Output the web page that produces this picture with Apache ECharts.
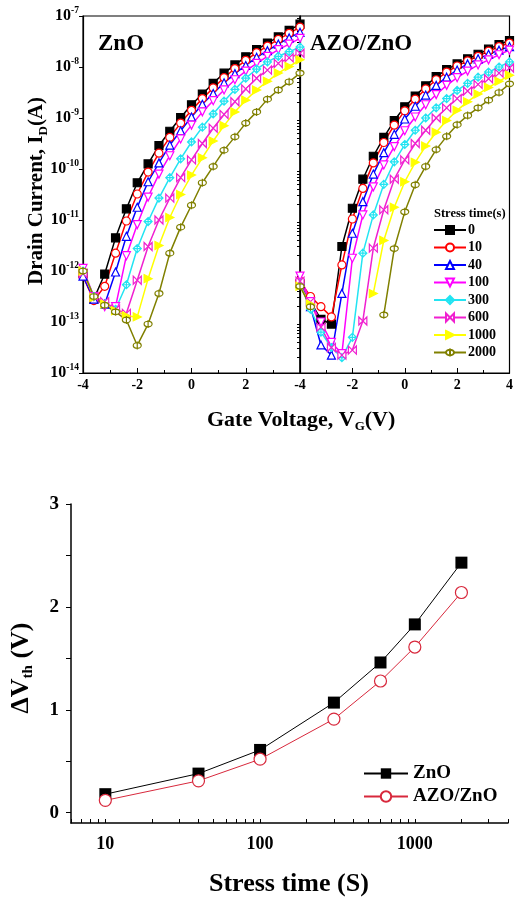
<!DOCTYPE html>
<html>
<head>
<meta charset="utf-8">
<script src="https://cdn.jsdelivr.net/npm/echarts@6/dist/echarts.min.js"></script>
<style>
  html, body { margin: 0; padding: 0; background: #fff; }
  #chart { width: 516px; height: 898px; }
</style>
</head>
<body>
<div id="chart"></div>
<script>
// gate voltage sweep (V), same for both panels
const voltages = [-4, -3.6, -3.2, -2.8, -2.4, -2, -1.6, -1.2, -0.8, -0.4, 0, 0.4, 0.8, 1.2, 1.6, 2, 2.4, 2.8, 3.2, 3.6, 4]
const stressNames = ['0', '10', '40', '100', '300', '600', '1000', '2000']

// log10 of drain current (A), ZnO panel
const znoLog0 = [-12.05, -12.55, -12.06, -11.35, -10.78, -10.27, -9.90, -9.54, -9.26, -8.99, -8.74, -8.53, -8.32, -8.12, -7.96, -7.80, -7.66, -7.53, -7.41, -7.28, -7.16]
const znoLog10 = [-12.10, -12.58, -12.30, -11.65, -11.02, -10.49, -10.06, -9.69, -9.38, -9.10, -8.85, -8.62, -8.41, -8.21, -8.03, -7.87, -7.72, -7.59, -7.46, -7.34, -7.22]
const znoLog40 = [-12.10, -12.55, -12.65, -12.02, -11.32, -10.75, -10.25, -9.88, -9.53, -9.25, -8.98, -8.73, -8.52, -8.31, -8.13, -7.97, -7.81, -7.68, -7.55, -7.43, -7.32]
const znoLog100 = [-11.95, -12.50, -12.70, -12.70, -11.70, -11.09, -10.55, -10.10, -9.74, -9.41, -9.14, -8.88, -8.66, -8.45, -8.25, -8.08, -7.93, -7.79, -7.66, -7.55, -7.44]
const znoLog300 = [-12.00, -12.50, -12.65, -12.75, -12.27, -11.56, -11.03, -10.57, -10.17, -9.80, -9.47, -9.18, -8.92, -8.67, -8.44, -8.22, -8.04, -7.90, -7.79, -7.70, -7.61]
const znoLog600 = [-12.05, -12.50, -12.60, -12.75, -12.83, -12.18, -11.52, -11.00, -10.57, -10.17, -9.82, -9.50, -9.20, -8.93, -8.68, -8.43, -8.22, -8.06, -7.93, -7.82, -7.73]
const znoLog1000 = [-12.00, -12.52, -12.65, -12.78, -12.88, -12.90, -12.15, -11.50, -10.95, -10.50, -10.12, -9.78, -9.45, -9.15, -8.88, -8.65, -8.45, -8.28, -8.12, -7.99, -7.86]
const znoLog2000 = [-12.00, -12.50, -12.67, -12.80, -12.96, -13.46, -13.04, -12.44, -11.65, -11.14, -10.71, -10.27, -9.95, -9.63, -9.37, -9.10, -8.88, -8.63, -8.45, -8.29, -8.12]

// log10 of drain current (A), AZO/ZnO panel
const azoLog0 = [-12.25, -12.60, -12.95, -13.04, -11.52, -10.77, -10.20, -9.75, -9.38, -9.05, -8.78, -8.57, -8.37, -8.19, -8.05, -7.94, -7.84, -7.75, -7.65, -7.56, -7.48]
const azoLog10 = [-12.20, -12.50, -12.70, -12.90, -11.88, -10.98, -10.38, -9.88, -9.48, -9.14, -8.86, -8.63, -8.43, -8.25, -8.10, -7.98, -7.88, -7.79, -7.69, -7.60, -7.53]
const azoLog40 = [-12.20, -12.70, -13.45, -13.65, -12.44, -11.26, -10.64, -10.10, -9.68, -9.32, -9.02, -8.77, -8.55, -8.36, -8.20, -8.06, -7.94, -7.84, -7.75, -7.67, -7.60]
const azoLog100 = [-12.10, -12.60, -13.00, -13.40, -13.62, -11.75, -10.90, -10.35, -9.92, -9.56, -9.25, -8.98, -8.74, -8.54, -8.36, -8.21, -8.08, -7.96, -7.86, -7.76, -7.67]
const azoLog300 = [-12.25, -12.75, -13.20, -13.50, -13.70, -13.30, -11.65, -10.90, -10.30, -9.86, -9.52, -9.24, -9.00, -8.80, -8.62, -8.46, -8.32, -8.20, -8.10, -8.00, -7.90]
const azoLog600 = [-12.20, -12.60, -13.10, -13.50, -13.65, -13.55, -12.98, -11.55, -10.80, -10.20, -9.82, -9.50, -9.24, -9.00, -8.80, -8.62, -8.47, -8.34, -8.23, -8.12, -8.02]
const azoLog1000 = [-12.30, -12.65, null, null, null, null, null, -12.44, -11.40, -10.75, -10.25, -9.87, -9.55, -9.28, -9.05, -8.85, -8.68, -8.53, -8.40, -8.28, -8.16]
const azoLog2000 = [-12.30, -12.70, null, null, null, null, null, null, -12.86, -11.56, -10.84, -10.31, -9.95, -9.62, -9.36, -9.13, -8.95, -8.80, -8.65, -8.50, -8.33]

const decadeExps = [-14, -13, -12, -11, -10, -9, -8, -7]

// threshold voltage shift vs stress time
const stressTime = [10, 40, 100, 300, 600, 1000, 2000]
const dVthZnO = [0.18, 0.38, 0.61, 1.07, 1.46, 1.83, 2.43]
const dVthAZO = [0.12, 0.31, 0.52, 0.91, 1.28, 1.61, 2.14]
const dVthTicks = [0, 0.5, 1, 1.5, 2, 2.5, 3]
const dVthLabels = [0, 1, 2, 3]
const timeLabels = [10, 100, 1000]

const znoLogs = [znoLog0, znoLog10, znoLog40, znoLog100, znoLog300, znoLog600, znoLog1000, znoLog2000]
const azoLogs = [azoLog0, azoLog10, azoLog40, azoLog100, azoLog300, azoLog600, azoLog1000, azoLog2000]

const SERIF = "'Liberation Serif', 'DejaVu Serif', serif"

const markers = [
  { color: '#000000', fill: '#000000', symbol: 'rect' },
  { color: '#ff0000', fill: '#ffffff', symbol: 'circle' },
  { color: '#0000ff', fill: '#ffffff', symbol: 'triangle' },
  { color: '#ff00ff', fill: '#ffffff', symbol: 'path://M-9,-8L9,-8L0,9Z' },
  { color: '#22e4f2', fill: '#ffffff', symbol: 'path://M0,-10L10,0L0,10L-10,0ZM0,-10L0,10M-10,0L10,0' },
  { color: '#f020d0', fill: '#ffffff', symbol: 'path://M-10,-8L10,8L10,-8L-10,8Z' },
  { color: '#ffff00', fill: '#ffff00', symbol: 'path://M-8,-9L9,0L-8,9Z' },
  { color: '#808000', fill: '#ffffff', symbol: 'path://M0,-9A9,9 0 1,1 0,9A9,9 0 1,1 0,-9ZM0,-13L0,13' }
]

const minorDecadeTicks = []
decadeExps.slice(0, -1).forEach(e => {
  for (let m = 2; m <= 9; m++) minorDecadeTicks.push(Number(m + 'e' + e))
})
const timeTicks = [6, 7, 8, 9, 10, 20, 30, 40, 50, 60, 70, 80, 90, 100, 200, 300, 400, 500, 600, 700, 800, 900, 1000, 2000, 3000, 4000]

function curve (logs, i, panel) {
  const m = markers[i]
  return {
    name: stressNames[i],
    type: 'line',
    xAxisIndex: panel,
    yAxisIndex: panel === 0 ? 0 : 2,
    data: voltages.map((v, k) => [v, logs[k] === null ? null : Math.pow(10, logs[k])]),
    symbol: m.symbol,
    symbolSize: 8,
    lineStyle: { color: m.color, width: 1.5 },
    itemStyle: { color: m.fill, borderColor: m.color, borderWidth: 1.2 },
    emphasis: { disabled: true }
  }
}

function vgAxis (grid, showMax) {
  return {
    type: 'value',
    gridIndex: grid,
    min: -4,
    max: 4,
    interval: 2,
    axisLine: { onZero: false, lineStyle: { color: '#000', width: 1.2 } },
    axisTick: { inside: true, length: 5, lineStyle: { color: '#000' } },
    minorTick: { show: true, splitNumber: 2, length: 3, lineStyle: { color: '#000' } },
    splitLine: { show: false },
    axisLabel: {
      showMaxLabel: showMax,
      margin: 5,
      color: '#000',
      fontFamily: SERIF,
      fontWeight: 'bold',
      fontSize: 14
    }
  }
}

const chart = echarts.init(document.getElementById('chart'))
chart.setOption({
  animation: false,
  backgroundColor: '#fff',
  grid: [
    { left: 83, top: 16, width: 217, height: 357, show: true, borderColor: '#000', borderWidth: 1.2 },
    { left: 300, top: 16, width: 215, height: 357, show: true, borderColor: '#000', borderWidth: 1.2 },
    { left: 71, top: 504, width: 437, height: 319 }
  ],
  title: [
    { text: 'ZnO', left: 93, top: 28, textStyle: { fontFamily: SERIF, fontWeight: 'bold', fontSize: 23, color: '#000' } },
    { text: 'AZO/ZnO', left: 305, top: 28, textStyle: { fontFamily: SERIF, fontWeight: 'bold', fontSize: 23, color: '#000' } },
    { text: 'Stress time(s)', left: 429, top: 202, textStyle: { fontFamily: SERIF, fontWeight: 'bold', fontSize: 12.5, color: '#000' } },
    {
      text: '{a|Gate Voltage, V}{s|G}{a|(V)}',
      left: 202,
      top: 402,
      textStyle: {
        rich: {
          a: { fontFamily: SERIF, fontWeight: 'bold', fontSize: 22, color: '#000', lineHeight: 26 },
          s: { fontFamily: SERIF, fontWeight: 'bold', fontSize: 13, color: '#000', lineHeight: 13, verticalAlign: 'bottom' }
        }
      }
    },
    { text: 'Stress time (S)', left: 204, top: 866, textStyle: { fontFamily: SERIF, fontWeight: 'bold', fontSize: 26, color: '#000' } }
  ],
  graphic: [
    {
      type: 'text',
      x: 37,
      y: 191,
      rotation: Math.PI / 2,
      style: {
        text: '{a|Drain Current, I}{s|D}{a|(A)}',
        align: 'center',
        verticalAlign: 'middle',
        rich: {
          a: { fontFamily: SERIF, fontWeight: 'bold', fontSize: 21, fill: '#000', lineHeight: 26 },
          s: { fontFamily: SERIF, fontWeight: 'bold', fontSize: 13, fill: '#000', lineHeight: 13, verticalAlign: 'bottom' }
        }
      }
    },
    {
      type: 'text',
      x: 21,
      y: 668,
      rotation: Math.PI / 2,
      style: {
        text: '{a|ΔV}{s|th}{a| (V)}',
        align: 'center',
        verticalAlign: 'middle',
        rich: {
          a: { fontFamily: SERIF, fontWeight: 'bold', fontSize: 26, fill: '#000', lineHeight: 30 },
          s: { fontFamily: SERIF, fontWeight: 'bold', fontSize: 15, fill: '#000', lineHeight: 15, verticalAlign: 'bottom' }
        }
      }
    }
  ],
  legend: [
    {
      data: stressNames,
      orient: 'vertical',
      left: 428,
      top: 218,
      itemWidth: 32,
      itemHeight: 10,
      itemGap: 3.5,
      selectedMode: false,
      textStyle: { fontFamily: SERIF, fontWeight: 'bold', fontSize: 14, color: '#000', padding: [0, 0, 0, -3] }
    },
    {
      data: ['ZnO', 'AZO/ZnO'],
      orient: 'vertical',
      left: 358,
      top: 759,
      itemWidth: 44,
      itemHeight: 13,
      itemGap: 4,
      selectedMode: false,
      textStyle: { fontFamily: SERIF, fontWeight: 'bold', fontSize: 19, color: '#000' }
    }
  ],
  xAxis: [
    vgAxis(0, false),
    vgAxis(1, true),
    {
      type: 'log',
      gridIndex: 2,
      min: 6,
      max: 4000,
      axisLine: { onZero: false, lineStyle: { color: '#000', width: 1.5 } },
      axisTick: { inside: true, length: 4, customValues: timeTicks, lineStyle: { color: '#000' } },
      splitLine: { show: false },
      axisLabel: {
        customValues: timeLabels,
        formatter: v => String(v),
        margin: 12,
        color: '#000',
        fontFamily: SERIF,
        fontWeight: 'bold',
        fontSize: 18
      }
    }
  ],
  yAxis: [
    {
      type: 'log',
      gridIndex: 0,
      min: 1e-14,
      max: 1e-7,
      axisLine: { onZero: false, lineStyle: { color: '#000', width: 1.2 } },
      axisTick: { length: 4, customValues: decadeExps.map(e => Number('1e' + e)), lineStyle: { color: '#000' } },
      splitLine: { show: false },
      axisLabel: {
        customValues: decadeExps.map(e => Number('1e' + e)),
        margin: 4,
        formatter: v => '{b|10}{s|' + Math.round(Math.log10(v)) + '}',
        rich: {
          b: { fontFamily: SERIF, fontWeight: 'bold', fontSize: 16, color: '#000', lineHeight: 20 },
          s: { fontFamily: SERIF, fontWeight: 'bold', fontSize: 9.5, color: '#000', lineHeight: 9, verticalAlign: 'top' }
        }
      }
    },
    {
      type: 'log',
      gridIndex: 0,
      min: 1e-14,
      max: 1e-7,
      axisLine: { show: false, onZero: false },
      axisTick: { inside: true, length: 3, customValues: minorDecadeTicks, lineStyle: { color: '#000' } },
      axisLabel: { show: false },
      splitLine: { show: false }
    },
    {
      type: 'log',
      gridIndex: 1,
      min: 1e-14,
      max: 1e-7,
      axisLine: { onZero: false, lineStyle: { color: '#000', width: 1.2 } },
      axisTick: { show: false },
      axisLabel: { show: false },
      splitLine: { show: false }
    },
    {
      type: 'value',
      gridIndex: 2,
      min: -0.1,
      max: 3,
      axisLine: { show: true, onZero: false, lineStyle: { color: '#000', width: 1.5 } },
      axisTick: { show: true, length: 5, customValues: dVthTicks, lineStyle: { color: '#000' } },
      splitLine: { show: false },
      axisLabel: {
        customValues: dVthLabels,
        margin: 12,
        color: '#000',
        fontFamily: SERIF,
        fontWeight: 'bold',
        fontSize: 19
      }
    }
  ],
  series: [
    ...znoLogs.map((logs, i) => curve(logs, i, 0)),
    ...azoLogs.map((logs, i) => curve(logs, i, 1)),
    {
      name: 'ZnO',
      type: 'line',
      xAxisIndex: 2,
      yAxisIndex: 3,
      data: stressTime.map((t, i) => [t, dVthZnO[i]]),
      symbol: 'rect',
      symbolSize: 12,
      lineStyle: { color: '#000', width: 1 },
      itemStyle: { color: '#000' },
      emphasis: { disabled: true }
    },
    {
      name: 'AZO/ZnO',
      type: 'line',
      xAxisIndex: 2,
      yAxisIndex: 3,
      data: stressTime.map((t, i) => [t, dVthAZO[i]]),
      symbol: 'circle',
      symbolSize: 12,
      lineStyle: { color: '#d8283c', width: 1 },
      itemStyle: { color: '#fff', borderColor: '#d8283c', borderWidth: 1.2 },
      emphasis: { disabled: true }
    }
  ]
})
</script>
</body>
</html>
